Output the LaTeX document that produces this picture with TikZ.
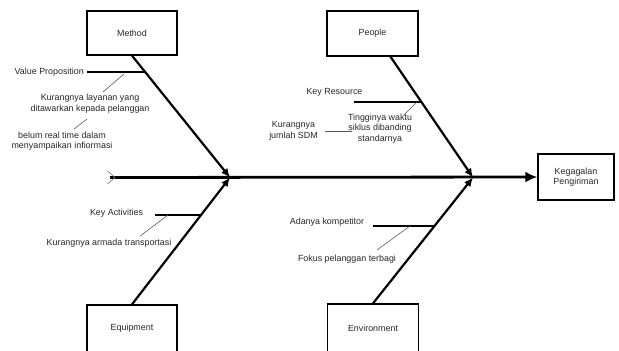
\documentclass[tikz,border=0pt]{standalone}
\usepackage{fontspec}
\setmainfont{Liberation Sans}
\usetikzlibrary{arrows.meta}
\begin{document}
\begin{tikzpicture}[x=1pt,y=-1pt,
  box/.style={draw=black,line width=1.3pt,minimum width=90pt,minimum height=44pt,inner sep=0pt,
    font=\fontsize{8.9}{10.5}\selectfont,text=black!85,align=center},
  lbl/.style={font=\fontsize{8.9}{10.5}\selectfont,text=black!85,inner sep=0pt,align=center},
  bone/.style={line width=2.2pt,-{Latex[length=9pt,width=8pt]}},
  spine/.style={line width=2.8pt,-{Latex[length=12pt,width=11pt]}},
  sub/.style={line width=1.3pt},
  tick/.style={line width=0.6pt,draw=black!65}]
\useasboundingbox (0,0) rectangle (619,351);
% boxes
\node[box] (method) at (132,33) {Method};
\node[box,minimum width=91pt,minimum height=45pt] (people) at (372.5,33.5) {People};
\node[box,minimum height=47pt] (equip) at (132,328.5) {Equipment};
\node[box,minimum width=91pt,minimum height=48pt] (env) at (373,328) {Environment};
\node[box,minimum width=76pt,minimum height=46pt] (kg) at (576,177) {Kegagalan\\Pengiriman};
% spine
\coordinate (tail) at (110,177.5);
\draw[spine] (tail) -- (kg.west);
\draw[line width=0.6pt,draw=black!55] (107.5,171) -- (115,177.5) -- (107.5,184);
% bones
\coordinate (mhead) at (230,177.5);
\coordinate (phead) at (473,177.5);
\coordinate (pstart) at (390,56);
\draw[bone] (method.south) -- (mhead);
\draw[bone] (pstart) -- (phead);
\draw[bone] (equip.north) -- (mhead);
\draw[bone] (env.north) -- (phead);
% Method branch
\node[lbl,anchor=east] (vp) at (84,72) {Value Proposition};
\coordinate (vpa) at (87,72); \coordinate (vpb) at (146,72);
\draw[sub] (vpa) -- (vpb);
\node[lbl] (kl) at (90,103.5) {Kurangnya layanan yang\\ditawarkan kepada pelanggan};
\coordinate (t1a) at (124,74); \coordinate (t1b) at (103,92);
\draw[tick] (t1a) -- (t1b);
\node[lbl] (brt) at (62,141) {belum real time dalam\\menyampaikan infiormasi};
\coordinate (t2a) at (87,119); \coordinate (t2b) at (74,129);
\draw[tick] (t2a) -- (t2b);
% People branch
\node[lbl] (kr) at (334.5,92) {Key Resource};
\coordinate (kra) at (354,102); \coordinate (krb) at (421,102);
\draw[sub] (kra) -- (krb);
\coordinate (t3a) at (417,102); \coordinate (t3b) at (404,115);
\draw[tick] (t3a) -- (t3b);
\node[lbl] (tw) at (380,128.5) {Tingginya waktu\\siklus dibanding\\standarnya};
\node[lbl] (ks) at (293.5,131) {Kurangnya\\jumlah SDM};
\draw[tick] (ks.east) ++(7,0) coordinate (t4a) -- (352,131) coordinate (t4b);
% Equipment branch
\node[lbl] (ka) at (116.5,213) {Key Activities};
\coordinate (kaa) at (155,215); \coordinate (kab) at (202,215);
\draw[sub] (kaa) -- (kab);
\coordinate (t5a) at (168,215); \coordinate (t5b) at (140,236);
\draw[tick] (t5a) -- (t5b);
\node[lbl] (kat) at (109,243) {Kurangnya armada transportasi};
% Environment branch
\node[lbl] (ak) at (327,222) {Adanya kompetitor};
\coordinate (aka) at (373,226); \coordinate (akb) at (435,226);
\draw[sub] (aka) -- (akb);
\coordinate (t6a) at (410,226); \coordinate (t6b) at (377,250);
\draw[tick] (t6a) -- (t6b);
\node[lbl] (fp) at (347,259) {Fokus pelanggan terbagi};
\end{tikzpicture}
\end{document}
